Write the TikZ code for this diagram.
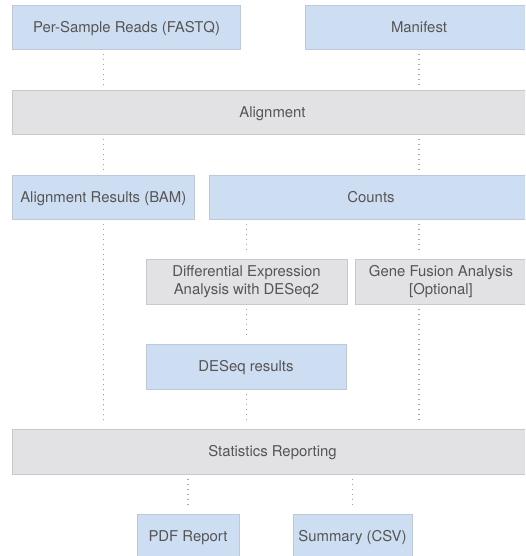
\documentclass[tikz,border=0pt]{standalone}
\usepackage{fontspec}
\setmainfont{TeX Gyre Heros}
\definecolor{bluefill}{HTML}{CEDEF2}
\definecolor{blueline}{HTML}{BDC9D8}
\definecolor{greyfill}{HTML}{E2E2E4}
\definecolor{greyline}{HTML}{C9C9CB}
\definecolor{txt}{HTML}{555555}
\definecolor{dotc}{HTML}{8C8C8C}
\begin{document}
\begin{tikzpicture}[x=1pt,y=-1pt,
  box/.style={draw, line width=0.8pt, inner sep=0pt, align=center, text=txt,
    font=\fontsize{14.9}{16.4}\selectfont},
  oneline/.style={text height=10.6pt, text depth=0pt},
  bbox/.style={box, fill=bluefill, draw=blueline},
  gbox/.style={box, fill=greyfill, draw=greyline},
  conn/.style={draw=dotc, line width=1.1pt, line cap=round,
    dash pattern=on 0.01pt off 5pt, shorten <=5pt, shorten >=5pt}]
\useasboundingbox (0,0) rectangle (525,556);
\clip (0,0) rectangle (525,556);
% boxes
\node[bbox, oneline, minimum width=228pt, minimum height=44pt] (reads) at (126.5,27) {Per-Sample Reads (FASTQ)};
\node[bbox, oneline, minimum width=228pt, minimum height=44pt] (manifest) at (419,27) {Manifest};
\node[gbox, oneline, minimum width=520pt, minimum height=44pt] (align) at (272.5,112) {Alignment};
\node[bbox, oneline, minimum width=181.5pt, minimum height=44pt] (bam) at (103.25,197) {Alignment Results (BAM)};
\node[bbox, oneline, minimum width=324pt, minimum height=44pt] (counts) at (371,197) {Counts};
\node[gbox, minimum width=201pt, minimum height=45pt] (diff) at (246.5,281.5) {Differential Expression\\[1pt]Analysis with DESeq2};
\node[gbox, minimum width=172pt, minimum height=45pt] (fusion) at (441,281.5) {Gene Fusion Analysis\\[1pt]{[Optional]}};
\node[bbox, oneline, minimum width=200pt, minimum height=45pt] (deseq) at (246,366.5) {DESeq results};
\node[gbox, oneline, minimum width=520pt, minimum height=45pt] (stats) at (272.5,451.5) {Statistics Reporting};
\node[bbox, oneline, minimum width=102pt, minimum height=44pt] (pdf) at (188,536) {PDF Report};
\node[bbox, oneline, minimum width=119pt, minimum height=44pt] (csv) at (352.5,536) {Summary (CSV)};
% connectors
\path[conn] (reads.south -| bam.north) -- (align.north -| bam.north);
\path[conn] (manifest.south) -- (align.north -| manifest.south);
\path[conn] (align.south -| bam.north) -- (bam.north);
\path[conn] (align.south -| manifest.south) -- (counts.north -| manifest.south);
\path[conn] (counts.south -| diff.north) -- (diff.north);
\path[conn] (counts.south -| manifest.south) -- (fusion.north -| manifest.south);
\path[conn] (diff.south) -- (deseq.north -| diff.south);
\path[conn] (bam.south) -- (stats.north -| bam.south);
\path[conn] (deseq.south -| diff.south) -- (stats.north -| diff.south);
\path[conn] (fusion.south -| manifest.south) -- (stats.north -| manifest.south);
\path[conn] (stats.south -| pdf.north) -- (pdf.north);
\path[conn] (stats.south -| csv.north) -- (csv.north);
\end{tikzpicture}
\end{document}
